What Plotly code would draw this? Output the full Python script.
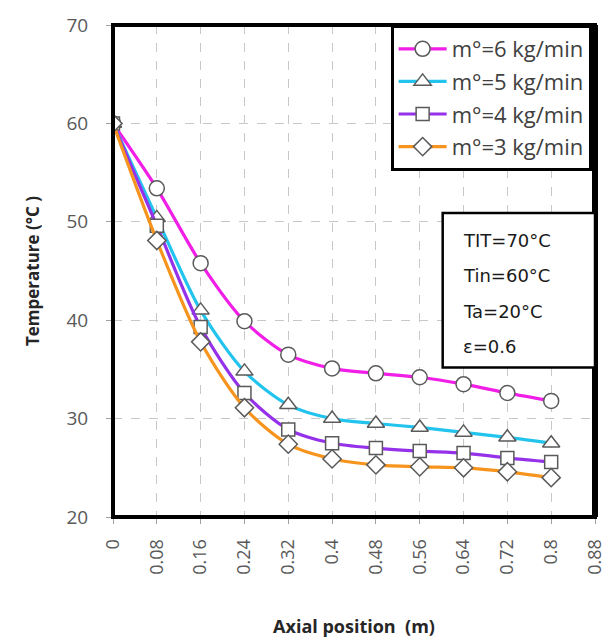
import plotly.graph_objects as go

# Axial positions along the collector (m)
axial_pos = [0, 0.08, 0.16, 0.24, 0.32, 0.4, 0.48, 0.56, 0.64, 0.72, 0.8]

# Outlet temperature profiles (°C) for each mass flow rate
temp_m6 = [60, 53.4, 45.8, 39.9, 36.5, 35.1, 34.6, 34.2, 33.5, 32.6, 31.8]
temp_m5 = [60, 50.4, 41.0, 34.8, 31.4, 30.0, 29.5, 29.1, 28.6, 28.1, 27.5]
temp_m4 = [60, 49.6, 39.3, 32.6, 28.9, 27.5, 27.0, 26.7, 26.5, 26.0, 25.6]
temp_m3 = [60, 48.1, 37.8, 31.1, 27.4, 25.9, 25.3, 25.1, 25.0, 24.6, 24.0]

series_names = ["m°=6 kg/min", "m°=5 kg/min", "m°=4 kg/min", "m°=3 kg/min"]
series_values = [temp_m6, temp_m5, temp_m4, temp_m3]
line_colors = ["#F01EE6", "#22C4EE", "#9531E8", "#F7941D"]
marker_symbols = ["circle", "triangle-up", "square", "diamond"]
marker_sizes = [15, 15, 13, 14]

x_ticks = [0, 0.08, 0.16, 0.24, 0.32, 0.4, 0.48, 0.56, 0.64, 0.72, 0.8, 0.88]
x_tick_text = ["0", "0.08", "0.16", "0.24", "0.32", "0.4", "0.48", "0.56",
               "0.64", "0.72", "0.8", "0.88"]
y_ticks = [20, 30, 40, 50, 60, 70]

params_text = ["TIT=70°C", "Tin=60°C", "Ta=20°C", "ε=0.6"]

fig = go.Figure()
for name, vals, col, sym, ms in zip(series_names, series_values, line_colors,
                                    marker_symbols, marker_sizes):
    fig.add_trace(go.Scatter(
        x=axial_pos, y=vals, name=name, legendgroup=name,
        mode="lines+markers",
        line=dict(color=col, width=3.2, shape="spline", smoothing=0.8),
        marker=dict(symbol=sym, size=ms, color="white",
                    line=dict(color="#5A5A5A", width=1.5)),
    ))

grid = dict(showgrid=True, gridcolor="#C8C8C8", gridwidth=1, griddash="dash")

fig.update_layout(
    width=613, height=643,
    margin=dict(l=113, r=18, t=25, b=126),
    paper_bgcolor="white", plot_bgcolor="white",
    font=dict(family="Open Sans, DejaVu Sans, sans-serif", color="#595959"),
    showlegend=True,
    legend=dict(
        x=0.993, y=1.0, xanchor="right", yanchor="top",
        bgcolor="white", bordercolor="black", borderwidth=3,
        font=dict(size=22, color="#404040", family="Open Sans, sans-serif"),
        tracegroupgap=1, itemwidth=48,
    ),
    xaxis=dict(
        range=[0, 0.88], tickvals=x_ticks, ticktext=x_tick_text,
        tickangle=-90, tickfont=dict(size=18, color="#595959"),
        ticks="outside", ticklen=6, tickcolor="#A0A0A0",
        ticklabelstandoff=8, automargin=False,
        zeroline=False, showline=False,
        title=dict(text="<b>Axial position  (m)</b>",
                   font=dict(size=18, color="#262626"), standoff=46),
        **grid,
    ),
    yaxis=dict(
        range=[20, 70], tickvals=y_ticks,
        tickfont=dict(size=19, color="#595959"),
        ticks="outside", ticklen=6, tickcolor="#A0A0A0",
        ticklabelstandoff=14, automargin=False,
        zeroline=False, showline=False,
        title=dict(text="<b>Temperature (°C )</b>",
                   font=dict(size=17, color="#262626"), standoff=22),
        **grid,
    ),
)

# Heavy plot frame
fig.add_shape(type="rect", xref="paper", yref="paper", x0=0, y0=0, x1=1, y1=1,
              line=dict(color="black", width=4), layer="above")
fig.add_shape(type="line", xref="paper", yref="paper", x0=1, y0=0, x1=1, y1=1,
              line=dict(color="black", width=6), layer="above")

# Operating-conditions box
fig.add_shape(type="rect", xref="paper", yref="paper",
              x0=0.684, y0=0.304, x1=1.0, y1=0.618,
              line=dict(color="black", width=2.5), fillcolor="white",
              layer="above")
box_y = [0.562, 0.490, 0.418, 0.346]
for txt, yy in zip(params_text, box_y):
    fig.add_annotation(xref="paper", yref="paper", x=0.723, y=yy,
                       xanchor="left", yanchor="middle", text=txt,
                       showarrow=False,
                       font=dict(size=18, color="#1A1A1A",
                                 family="DejaVu Sans, sans-serif"))

fig.write_html("out.html")
